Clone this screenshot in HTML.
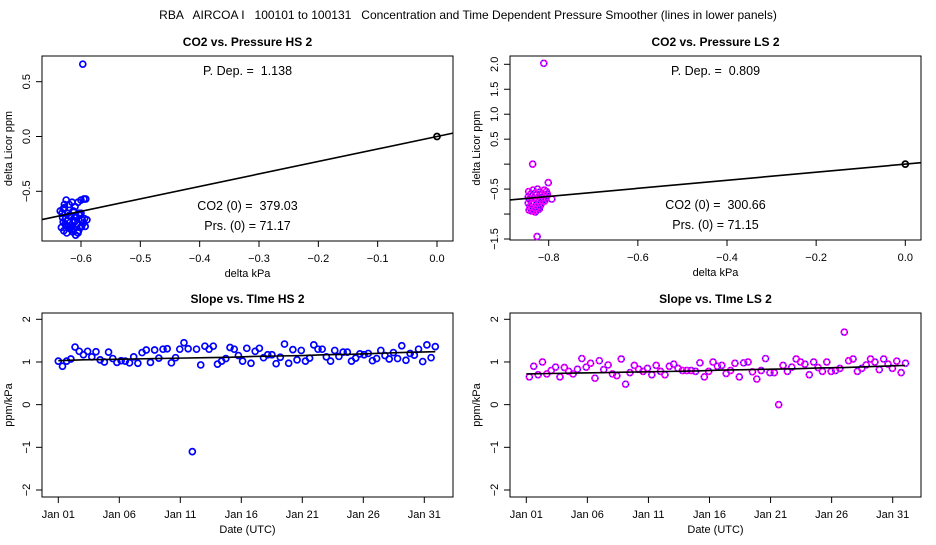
<!DOCTYPE html>
<html><head><meta charset="utf-8"><style>
body{margin:0;background:#fff}
svg text{font-family:"Liberation Sans",sans-serif;fill:#000}
.t{font-weight:bold;font-size:12px}
.k{font-size:11px}
</style></head><body>
<svg id="s" width="936" height="540" xmlns="http://www.w3.org/2000/svg">
<text x="468" y="19" text-anchor="middle" font-size="12" style="white-space:pre" xml:space="preserve">RBA   AIRCOA I   100101 to 100131   Concentration and Time Dependent Pressure Smoother (lines in lower panels)</text>
</svg>
<script>
// ---- data ----
const hsPdep = 1.138, lsPdep = 0.809;
const hsScX = [-0.597,-0.632,-0.628,-0.625,-0.62,-0.615,-0.61,-0.605,-0.6,-0.595,-0.63,-0.626,-0.622,-0.618,-0.613,-0.608,-0.603,-0.598,-0.633,-0.627,-0.621,-0.616,-0.611,-0.606,-0.601,-0.594,-0.629,-0.624,-0.619,-0.614,-0.609,-0.604,-0.599,-0.635,-0.631,-0.623,-0.617,-0.612,-0.607,-0.602,-0.596,-0.63,-0.62,-0.61,-0.6,-0.625,-0.615,-0.605,-0.628,-0.612,-0.592,-0.59,-0.593];
const hsScY = [0.66,-0.7,-0.65,-0.58,-0.62,-0.6,-0.64,-0.6,-0.58,-0.57,-0.78,-0.75,-0.7,-0.72,-0.68,-0.74,-0.7,-0.76,-0.83,-0.8,-0.82,-0.85,-0.78,-0.8,-0.83,-0.75,-0.86,-0.88,-0.84,-0.87,-0.9,-0.86,-0.82,-0.68,-0.74,-0.77,-0.73,-0.69,-0.8,-0.72,-0.79,-0.66,-0.72,-0.77,-0.7,-0.81,-0.85,-0.88,-0.62,-0.84,-0.57,-0.76,-0.82];
const lsScX = [-0.811,-0.836,-0.801,-0.826,-0.793,-0.845,-0.84,-0.835,-0.83,-0.825,-0.82,-0.815,-0.81,-0.805,-0.843,-0.838,-0.833,-0.828,-0.823,-0.818,-0.813,-0.808,-0.803,-0.842,-0.837,-0.832,-0.827,-0.822,-0.817,-0.812,-0.807,-0.844,-0.834,-0.824,-0.814,-0.804,-0.839,-0.829,-0.819,-0.809,-0.846,-0.841,-0.831,-0.821,-0.816,-0.846,-0.838,-0.828,-0.82,-0.83,-0.84,-0.826];
const lsScY = [2.02,0.0,-0.37,-1.45,-0.7,-0.55,-0.6,-0.52,-0.58,-0.5,-0.56,-0.6,-0.52,-0.55,-0.7,-0.65,-0.68,-0.62,-0.66,-0.63,-0.7,-0.62,-0.6,-0.85,-0.8,-0.78,-0.83,-0.75,-0.8,-0.72,-0.68,-0.92,-0.9,-0.88,-0.7,-0.64,-0.76,-0.93,-0.84,-0.74,-0.78,-0.88,-0.86,-0.9,-0.76,-0.66,-0.94,-0.72,-0.82,-0.96,-0.6,-0.92];
const hsSlope = [1.02,0.9,1.02,1.07,1.35,1.25,1.17,1.25,1.12,1.24,1.05,1.0,1.23,1.08,0.99,1.03,1.02,0.98,1.12,0.97,1.22,1.28,0.99,1.28,1.09,1.3,1.31,0.98,1.1,1.3,1.45,1.31,-1.1,1.3,0.93,1.37,1.3,1.37,0.95,1.02,1.08,1.34,1.3,1.15,1.02,1.32,0.97,1.25,1.32,1.1,1.17,1.17,0.96,1.11,1.42,0.97,1.29,1.05,1.27,1.02,1.09,1.4,1.3,1.3,1.12,1.02,1.27,1.13,1.23,1.23,1.02,1.09,1.19,1.17,1.2,1.03,1.08,1.27,1.15,1.07,1.22,1.08,1.38,1.04,1.2,1.16,1.3,1.01,1.4,1.1,1.36];
const lsSlope = [0.65,0.9,0.7,1.0,0.72,0.8,0.88,0.65,0.87,0.78,0.72,0.83,1.08,0.88,0.97,0.62,1.03,0.82,0.93,0.72,0.68,1.07,0.48,0.75,0.92,0.83,0.78,0.85,0.7,0.92,0.78,0.7,0.9,0.95,0.85,0.8,0.8,0.8,0.78,0.98,0.65,0.78,1.0,0.9,0.92,0.73,0.8,0.97,0.65,0.98,1.0,0.77,0.6,0.8,1.08,0.75,0.75,0.0,0.92,0.78,0.88,1.07,1.0,0.95,0.7,1.0,0.87,0.78,1.0,0.78,0.8,0.85,1.7,1.03,1.07,0.78,0.85,0.93,1.07,1.0,0.82,1.07,0.95,0.85,1.02,0.75,0.97];
const hsTime = {start:0.0, end:30.9};
const lsTime = {start:0.25, end:31.05};
const hsTrendDays = [0,2,4,6,8,10,12,14,16,18,20,22,24,26,28,30.9];
const hsTrendVals = [1.03,1.05,1.06,1.07,1.08,1.09,1.1,1.11,1.13,1.14,1.15,1.17,1.18,1.2,1.22,1.24];
const lsTrendDays = [0,2,4,6,8,10,12,14,16,18,20,22,24,26,28,31];
const lsTrendVals = [0.72,0.73,0.74,0.75,0.76,0.77,0.78,0.79,0.81,0.82,0.83,0.84,0.86,0.87,0.89,0.92];
const dateTicks = [0,5,10,15,20,25,30];
const dateLabels = ["Jan 01","Jan 06","Jan 11","Jan 16","Jan 21","Jan 26","Jan 31"];

const S = document.getElementById('s');
const NS = 'http://www.w3.org/2000/svg';
function mk(tag, at, parent){const e=document.createElementNS(NS,tag);for(const k in at)e.setAttribute(k,at[k]);(parent||S).appendChild(e);return e;}
function txt(x,y,s,cls,anchor,rot){const e=mk('text',{x:x,y:y,'text-anchor':anchor||'middle'});if(cls)e.setAttribute('class',cls);if(rot)e.setAttribute('transform','rotate(-90 '+x+' '+y+')');e.textContent=s;return e;}

function panel(o){
  const g=mk('g',{});
  
  
  const X=v=>o.px0+(v-o.x0)*(o.px1-o.px0)/(o.x1-o.x0);
  const Y=v=>o.py0+(v-o.y0)*(o.py1-o.py0)/(o.y1-o.y0);
  const b=mk('rect',{x:o.bx0,y:o.by0,width:o.bx1-o.bx0,height:o.by1-o.by0,fill:'none',stroke:'#000','stroke-width':1},g);
  
  
  const t=txt((o.bx0+o.bx1)/2,o.by0-10,o.title,'t');g.appendChild(t);
  
  
  o.yt.forEach((v,i)=>{const y=Y(v);mk('line',{x1:o.bx0-6,x2:o.bx0,y1:y,y2:y,stroke:'#000'},g);
    if(o.yl[i]!==''){const e=txt(o.bx0-12,y,o.yl[i],'k','middle',true);g.appendChild(e);
      
      }});
  mk('line',{x1:o.bx0,x2:o.bx0,y1:Y(o.yt[0]),y2:Y(o.yt[o.yt.length-1]),stroke:'#000'},g);
  const yt=txt(o.bx0-30,(o.by0+o.by1)/2,o.ytitle,'k','middle',true);g.appendChild(yt);
  
  
  o.xt.forEach((v,i)=>{const x=X(v);mk('line',{x1:x,x2:x,y1:o.by1,y2:o.by1+6,stroke:'#000'},g);
    const e=txt(x,o.by1+21,o.xl[i],'k');g.appendChild(e);
    
    });
  mk('line',{x1:X(o.xt[0]),x2:X(o.xt[o.xt.length-1]),y1:o.by1,y2:o.by1,stroke:'#000'},g);
  const xt=txt((o.bx0+o.bx1)/2,o.by1+36,o.xtitle,'k');g.appendChild(xt);
  
  
  return {g,X,Y};
}
function pt(g,x,y,ls){
  const c=mk('circle',{cx:x,cy:y,r:3,fill:'none',stroke:ls?'#ff00ff':'#0000ff','stroke-width':1.7},g);
  
  
  if(ls){mk('circle',{cx:x,cy:y,r:3,fill:'none',stroke:'#0000ff','stroke-width':1,'stroke-dasharray':'1 2'},g);}
}
function scatter(o,xs,ys,pdep,ls,ann){
  const p=panel(o);
  xs.forEach((x,i)=>pt(p.g,p.X(x),p.Y(ys[i]),ls));
  const xa=o.x0-(o.px0-o.bx0)*(o.x1-o.x0)/(o.px1-o.px0), xb=o.x1+(o.bx1-o.px1)*(o.x1-o.x0)/(o.px1-o.px0);
  const l=mk('line',{x1:o.bx0,y1:p.Y(pdep*xa),x2:o.bx1,y2:p.Y(pdep*xb),stroke:'#000','stroke-width':1.6},p.g);
  
  
  const z=mk('circle',{cx:p.X(0),cy:p.Y(0),r:3,fill:'none',stroke:'#000','stroke-width':1.7},p.g);
  
  
  const cx=(o.bx0+o.bx1)/2;
  [[ann[0],o.by0+19],[ann[1],o.by1-31],[ann[2],o.by1-11]].forEach(a=>{const e=txt(cx,a[1],a[0],null);e.setAttribute('font-size','12.5');e.setAttribute('style','white-space:pre');p.g.appendChild(e);
    
    });
}
function timeplot(o,vals,tr,tDays,tVals,ls){
  const p=panel(o);
  const n=vals.length;
  vals.forEach((v,i)=>pt(p.g,p.X(tr.start+i*(tr.end-tr.start)/(n-1)),p.Y(v),ls));
  let d='';tDays.forEach((t,i)=>{d+=(i?'L':'M')+p.X(t)+' '+p.Y(tVals[i]);});
  const l=mk('path',{d:d,fill:'none',stroke:'#000','stroke-width':1.6},p.g);
  
  
}
scatter({name:'co2-vs-pressure-hs',title:'CO2 vs. Pressure HS 2',bx0:42,bx1:453,by0:56,by1:241,x0:-0.6,x1:0,px0:81,px1:437,y0:0.5,y1:-0.5,py0:81.7,py1:191.3,
  xt:[-0.6,-0.5,-0.4,-0.3,-0.2,-0.1,0],xl:['\u22120.6','\u22120.5','\u22120.4','\u22120.3','\u22120.2','\u22120.1','0.0'],
  yt:[0.5,0,-0.5],yl:['0.5','0.0','\u22120.5'],ytitle:'delta Licor ppm',xtitle:'delta kPa'},hsScX,hsScY,hsPdep,false,['P. Dep. =  1.138','CO2 (0) =  379.03','Prs. (0) = 71.17']);
scatter({name:'co2-vs-pressure-ls',title:'CO2 vs. Pressure LS 2',bx0:510,bx1:921,by0:56,by1:240,x0:-0.8,x1:0,px0:548.7,px1:905.3,y0:2,y1:-1.5,py0:64.3,py1:239,
  xt:[-0.8,-0.6,-0.4,-0.2,0],xl:['\u22120.8','\u22120.6','\u22120.4','\u22120.2','0.0'],
  yt:[2,1.5,1,0.5,0,-0.5,-1,-1.5],yl:['2.0','1.5','1.0','0.5','','\u22120.5','','\u22121.5'],ytitle:'delta Licor ppm',xtitle:'delta kPa'},lsScX,lsScY,lsPdep,true,['P. Dep. =  0.809','CO2 (0) =  300.66','Prs. (0) = 71.15']);
timeplot({name:'slope-vs-time-hs',title:'Slope vs. TIme HS 2',bx0:42,bx1:453,by0:313,by1:497,x0:0,x1:30,px0:58.3,px1:424.3,y0:2,y1:-2,py0:319.3,py1:490,
  xt:dateTicks,xl:dateLabels,yt:[2,1,0,-1,-2],yl:['2','1','0','\u22121','\u22122'],ytitle:'ppm/kPa',xtitle:'Date (UTC)'},hsSlope,hsTime,hsTrendDays,hsTrendVals,false);
timeplot({name:'slope-vs-time-ls',title:'Slope vs. TIme LS 2',bx0:510,bx1:921,by0:313,by1:497,x0:0,x1:30,px0:526.3,px1:892.7,y0:2,y1:-2,py0:319.3,py1:490,
  xt:dateTicks,xl:dateLabels,yt:[2,1,0,-1,-2],yl:['2','1','0','\u22121','\u22122'],ytitle:'ppm/kPa',xtitle:'Date (UTC)'},lsSlope,lsTime,lsTrendDays,lsTrendVals,true);
</script>
</body></html>
